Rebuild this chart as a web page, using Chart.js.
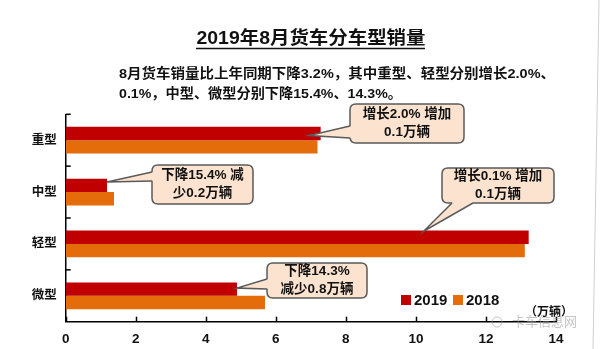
<!DOCTYPE html>
<html>
<head>
<meta charset="utf-8">
<script src="https://cdn.jsdelivr.net/npm/chart.js@4.4.1/dist/chart.umd.min.js"></script>
<style>
  html,body{margin:0;padding:0;background:#fff;}
  #wrap{width:600px;height:349px;position:relative;}
</style>
</head>
<body>
<div id="wrap"><canvas id="c" width="600" height="349"></canvas></div>
<script>
// ---- data ----
const categories = ['重型', '中型', '轻型', '微型'];
const seriesLabels = ['2019', '2018'];
const sales2019 = [7.28, 1.18, 13.22, 4.89];
const sales2018 = [7.19, 1.38, 13.11, 5.69];
const xTickStep = 2;
const xMax = 14;
const titleText = '2019年8月货车分车型销量';
const subtitleLines = ['8月货车销量比上年同期下降3.2%，其中重型、轻型分别增长2.0%、', '0.1%，中型、微型分别下降15.4%、14.3%。'];
const calloutTexts = [
  ['增长2.0% 增加', '0.1万辆'],
  ['下降15.4% 减', '少0.2万辆'],
  ['增长0.1% 增加', '0.1万辆'],
  ['下降14.3%', '减少0.8万辆']
];
const unitText = '（万辆）';
const watermarkText = '卡车信息网';

// ---- layout / style ----
const C2019 = '#C00000', C2018 = '#E46C0A';
const FONT = '"Liberation Sans", "Noto Sans CJK SC", sans-serif';
const calloutLayout = [
  {box:[350,104,114,39], base:['left',126,138], tip:[-11.5, 2]},
  {box:[152,165,101,39], base:['left',172,181], tip:[0,-3.5]},
  {box:[442,168,112,35], base:['bottom',452,473], tip:[-105,-6]},
  {box:[267,263,100,35], base:['left',279,289], tip:[0,-1]}
];

function fitText(ctx, text, x, y, size, targetW, align) {
  ctx.save();
  ctx.font = 'bold ' + size + 'px ' + FONT;
  const w = ctx.measureText(text).width;
  const s = targetW / w;
  ctx.translate(x, y);
  ctx.scale(s, 1);
  ctx.textAlign = 'left';
  ctx.textBaseline = 'middle';
  ctx.fillText(text, align === 'center' ? -w / 2 : 0, 0);
  ctx.restore();
}

function roundRect(ctx, x, y, w, h, r) {
  ctx.beginPath();
  ctx.moveTo(x + r, y);
  ctx.lineTo(x + w - r, y);
  ctx.quadraticCurveTo(x + w, y, x + w, y + r);
  ctx.lineTo(x + w, y + h - r);
  ctx.quadraticCurveTo(x + w, y + h, x + w - r, y + h);
  ctx.lineTo(x + r, y + h);
  ctx.quadraticCurveTo(x, y + h, x, y + h - r);
  ctx.lineTo(x, y + r);
  ctx.quadraticCurveTo(x, y, x + r, y);
  ctx.closePath();
}

const decor = {
  id: 'decor',
  beforeDraw(chart) {
    const ctx = chart.ctx;
    ctx.save();
    ctx.fillStyle = '#fff';
    ctx.fillRect(0, 0, chart.width, chart.height);
    // faint frame line at right
    ctx.strokeStyle = '#cfcfcf';
    ctx.lineWidth = 1;
    ctx.beginPath(); ctx.moveTo(599, 0); ctx.lineTo(593, 349); ctx.stroke();
    ctx.fillStyle = '#111';
    // title
    fitText(ctx, titleText, 311, 39, 18, 229, 'center');
    ctx.strokeStyle = '#111';
    ctx.lineWidth = 1.5;
    ctx.beginPath(); ctx.moveTo(196, 48.5); ctx.lineTo(425, 48.5); ctx.stroke();
    // subtitle
    fitText(ctx, subtitleLines[0], 119, 74, 13.5, 436, 'left');
    fitText(ctx, subtitleLines[1], 119, 94, 13.5, 283, 'left');
    ctx.restore();
  },
  afterDatasetsDraw(chart) {
    const ctx = chart.ctx;
    const xs = chart.scales.x, ys = chart.scales.y;
    const a = chart.chartArea;
    ctx.save();
    ctx.strokeStyle = '#000';
    ctx.lineWidth = 1.5;
    // inward ticks on x axis
    xs.ticks.forEach(t => {
      const px = Math.round(xs.getPixelForValue(t.value)) + 0.5;
      ctx.beginPath(); ctx.moveTo(px, a.bottom); ctx.lineTo(px, a.bottom - 5); ctx.stroke();
    });
    // inward ticks on y axis at category boundaries
    const band = (a.bottom - a.top) / categories.length;
    for (let i = 0; i < categories.length; i++) {
      const py = a.top + i * band;
      ctx.beginPath(); ctx.moveTo(a.left, py); ctx.lineTo(a.left + 5, py); ctx.stroke();
    }
    // callouts
    const meta = chart.getDatasetMeta(0);
    calloutLayout.forEach((L, i) => {
      const bar = meta.data[i];
      const tx = bar.x + L.tip[0], ty = bar.y + L.tip[1];
      const [bx, by, bw, bh] = L.box;
      ctx.fillStyle = '#FBE3CF';
      ctx.strokeStyle = '#5a5a5a';
      ctx.lineWidth = 1.5;
      roundRect(ctx, bx, by, bw, bh, 6);
      ctx.fill(); ctx.stroke();
      let p1, p2, q1, q2;
      if (L.base[0] === 'left') {
        p1 = [bx, L.base[1]]; p2 = [bx, L.base[2]];
        q1 = [bx + 2, L.base[1] + 1]; q2 = [bx + 2, L.base[2] - 1];
      } else {
        p1 = [L.base[1], by + bh]; p2 = [L.base[2], by + bh];
        q1 = [L.base[1] + 1, by + bh - 2]; q2 = [L.base[2] - 1, by + bh - 2];
      }
      ctx.beginPath();
      ctx.moveTo(q1[0], q1[1]); ctx.lineTo(p1[0], p1[1]); ctx.lineTo(tx, ty);
      ctx.lineTo(p2[0], p2[1]); ctx.lineTo(q2[0], q2[1]); ctx.closePath();
      ctx.fill();
      ctx.beginPath();
      ctx.moveTo(p1[0], p1[1]); ctx.lineTo(tx, ty); ctx.lineTo(p2[0], p2[1]);
      ctx.stroke();
      ctx.fillStyle = '#111';
      ctx.font = 'bold 13.5px ' + FONT;
      ctx.textAlign = 'center';
      ctx.textBaseline = 'middle';
      const lines = calloutTexts[i];
      const cy = by + bh / 2;
      const lh = 18;
      lines.forEach((ln, k) => {
        ctx.fillText(ln, bx + bw / 2, cy + (k - (lines.length - 1) / 2) * lh);
      });
    });
    // legend
    const legX = [401, 453];
    chart.data.datasets.forEach((ds, i) => {
      ctx.fillStyle = ds.backgroundColor;
      ctx.fillRect(legX[i], 295, 10, 10);
      ctx.fillStyle = '#111';
      ctx.font = 'bold 15px ' + FONT;
      ctx.textAlign = 'left';
      ctx.textBaseline = 'middle';
      ctx.fillText(ds.label, legX[i] + 13, 300.5);
    });
    // unit
    ctx.font = 'bold 12px ' + FONT;
    ctx.textAlign = 'center';
    ctx.fillText(unitText, 549, 313);
    // watermark
    ctx.fillStyle = 'rgba(150,150,150,0.55)';
    ctx.font = '13px ' + FONT;
    ctx.textAlign = 'left';
    ctx.fillText(watermarkText, 512, 322);
    ctx.strokeStyle = 'rgba(150,150,150,0.55)';
    ctx.lineWidth = 1;
    ctx.beginPath(); ctx.arc(497, 322, 5, 0, Math.PI * 2); ctx.stroke();
    ctx.restore();
  }
};

new Chart(document.getElementById('c'), {
  type: 'bar',
  data: {
    labels: categories,
    datasets: [
      {label: seriesLabels[0], data: sales2019, backgroundColor: C2019, borderWidth: 0},
      {label: seriesLabels[1], data: sales2018, backgroundColor: C2018, borderWidth: 0}
    ]
  },
  options: {
    indexAxis: 'y',
    responsive: false,
    animation: false,
    devicePixelRatio: 1,
    layout: {padding: {left: 0, right: 44, top: 114.3, bottom: 0}},
    datasets: {bar: {categoryPercentage: 0.515, barPercentage: 1}},
    plugins: {legend: {display: false}, tooltip: {enabled: false}, title: {display: false}},
    scales: {
      x: {
        min: 0, max: xMax,
        ticks: {stepSize: xTickStep, color: '#111', padding: 9, font: {family: FONT, size: 13.5, weight: 'bold'}},
        grid: {display: false, drawTicks: false},
        border: {display: true, color: '#000', width: 1.5},
        afterFit(s) { s.height = 27.3; }
      },
      y: {
        ticks: {color: '#111', padding: 9, font: {family: FONT, size: 12.5, weight: 'bold'}},
        grid: {display: false, drawTicks: false},
        border: {display: true, color: '#000', width: 1.5},
        afterFit(s) { s.width = 65.7; }
      }
    }
  },
  plugins: [decor]
});
</script>
</body>
</html>
